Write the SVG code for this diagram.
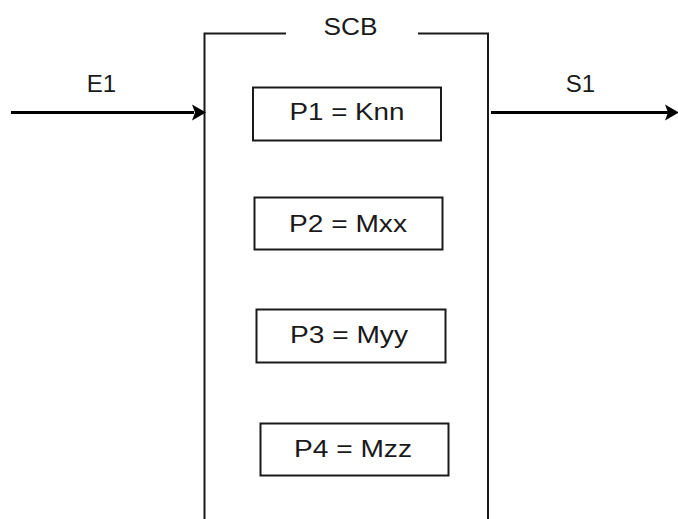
<svg xmlns="http://www.w3.org/2000/svg" width="678" height="519" viewBox="0 0 678 519">
<style>
.t{font-family:"Liberation Sans",Arial,sans-serif;font-size:24px;fill:#1a1a1a}
.box{fill:#fff;stroke:#1a1a1a;stroke-width:2}
.frame{fill:none;stroke:#1a1a1a;stroke-width:2}
.wire{stroke:#000;stroke-width:3;fill:none}
</style>
<rect width="678" height="519" fill="#fff"/>
<g id="SCB">
<path class="frame" d="M204.5,519 V33.5 H286 M418,33.5 H488 V519"/>
<text class="t" x="350.5" y="35" text-anchor="middle" textLength="54" lengthAdjust="spacingAndGlyphs">SCB</text>
</g>
<g id="P1">
<rect class="box" x="253" y="87.5" width="188" height="53"/>
<text class="t" x="347" y="120" text-anchor="middle" textLength="115" lengthAdjust="spacingAndGlyphs">P1 = Knn</text>
</g>
<g id="P2">
<rect class="box" x="254.5" y="197.5" width="188" height="52"/>
<text class="t" x="348" y="232" text-anchor="middle" textLength="118" lengthAdjust="spacingAndGlyphs">P2 = Mxx</text>
</g>
<g id="P3">
<rect class="box" x="256.5" y="309.5" width="189" height="53"/>
<text class="t" x="349" y="343" text-anchor="middle" textLength="118" lengthAdjust="spacingAndGlyphs">P3 = Myy</text>
</g>
<g id="P4">
<rect class="box" x="260.5" y="423.5" width="188" height="52"/>
<text class="t" x="353" y="457" text-anchor="middle" textLength="118" lengthAdjust="spacingAndGlyphs">P4 = Mzz</text>
</g>
<g id="connectors">
<line class="wire" x1="11" y1="112.5" x2="194" y2="112.5"/>
<polygon points="192,104.5 206,112.5 192,120.5 195,112.5" fill="#000"/>
<text class="t" x="101.5" y="92" text-anchor="middle">E1</text>
<line class="wire" x1="491" y1="112.5" x2="668" y2="112.5"/>
<polygon points="665,104.5 679,112.5 665,120.5 668,112.5" fill="#000"/>
<text class="t" x="580.5" y="92" text-anchor="middle">S1</text>
</g>
</svg>
